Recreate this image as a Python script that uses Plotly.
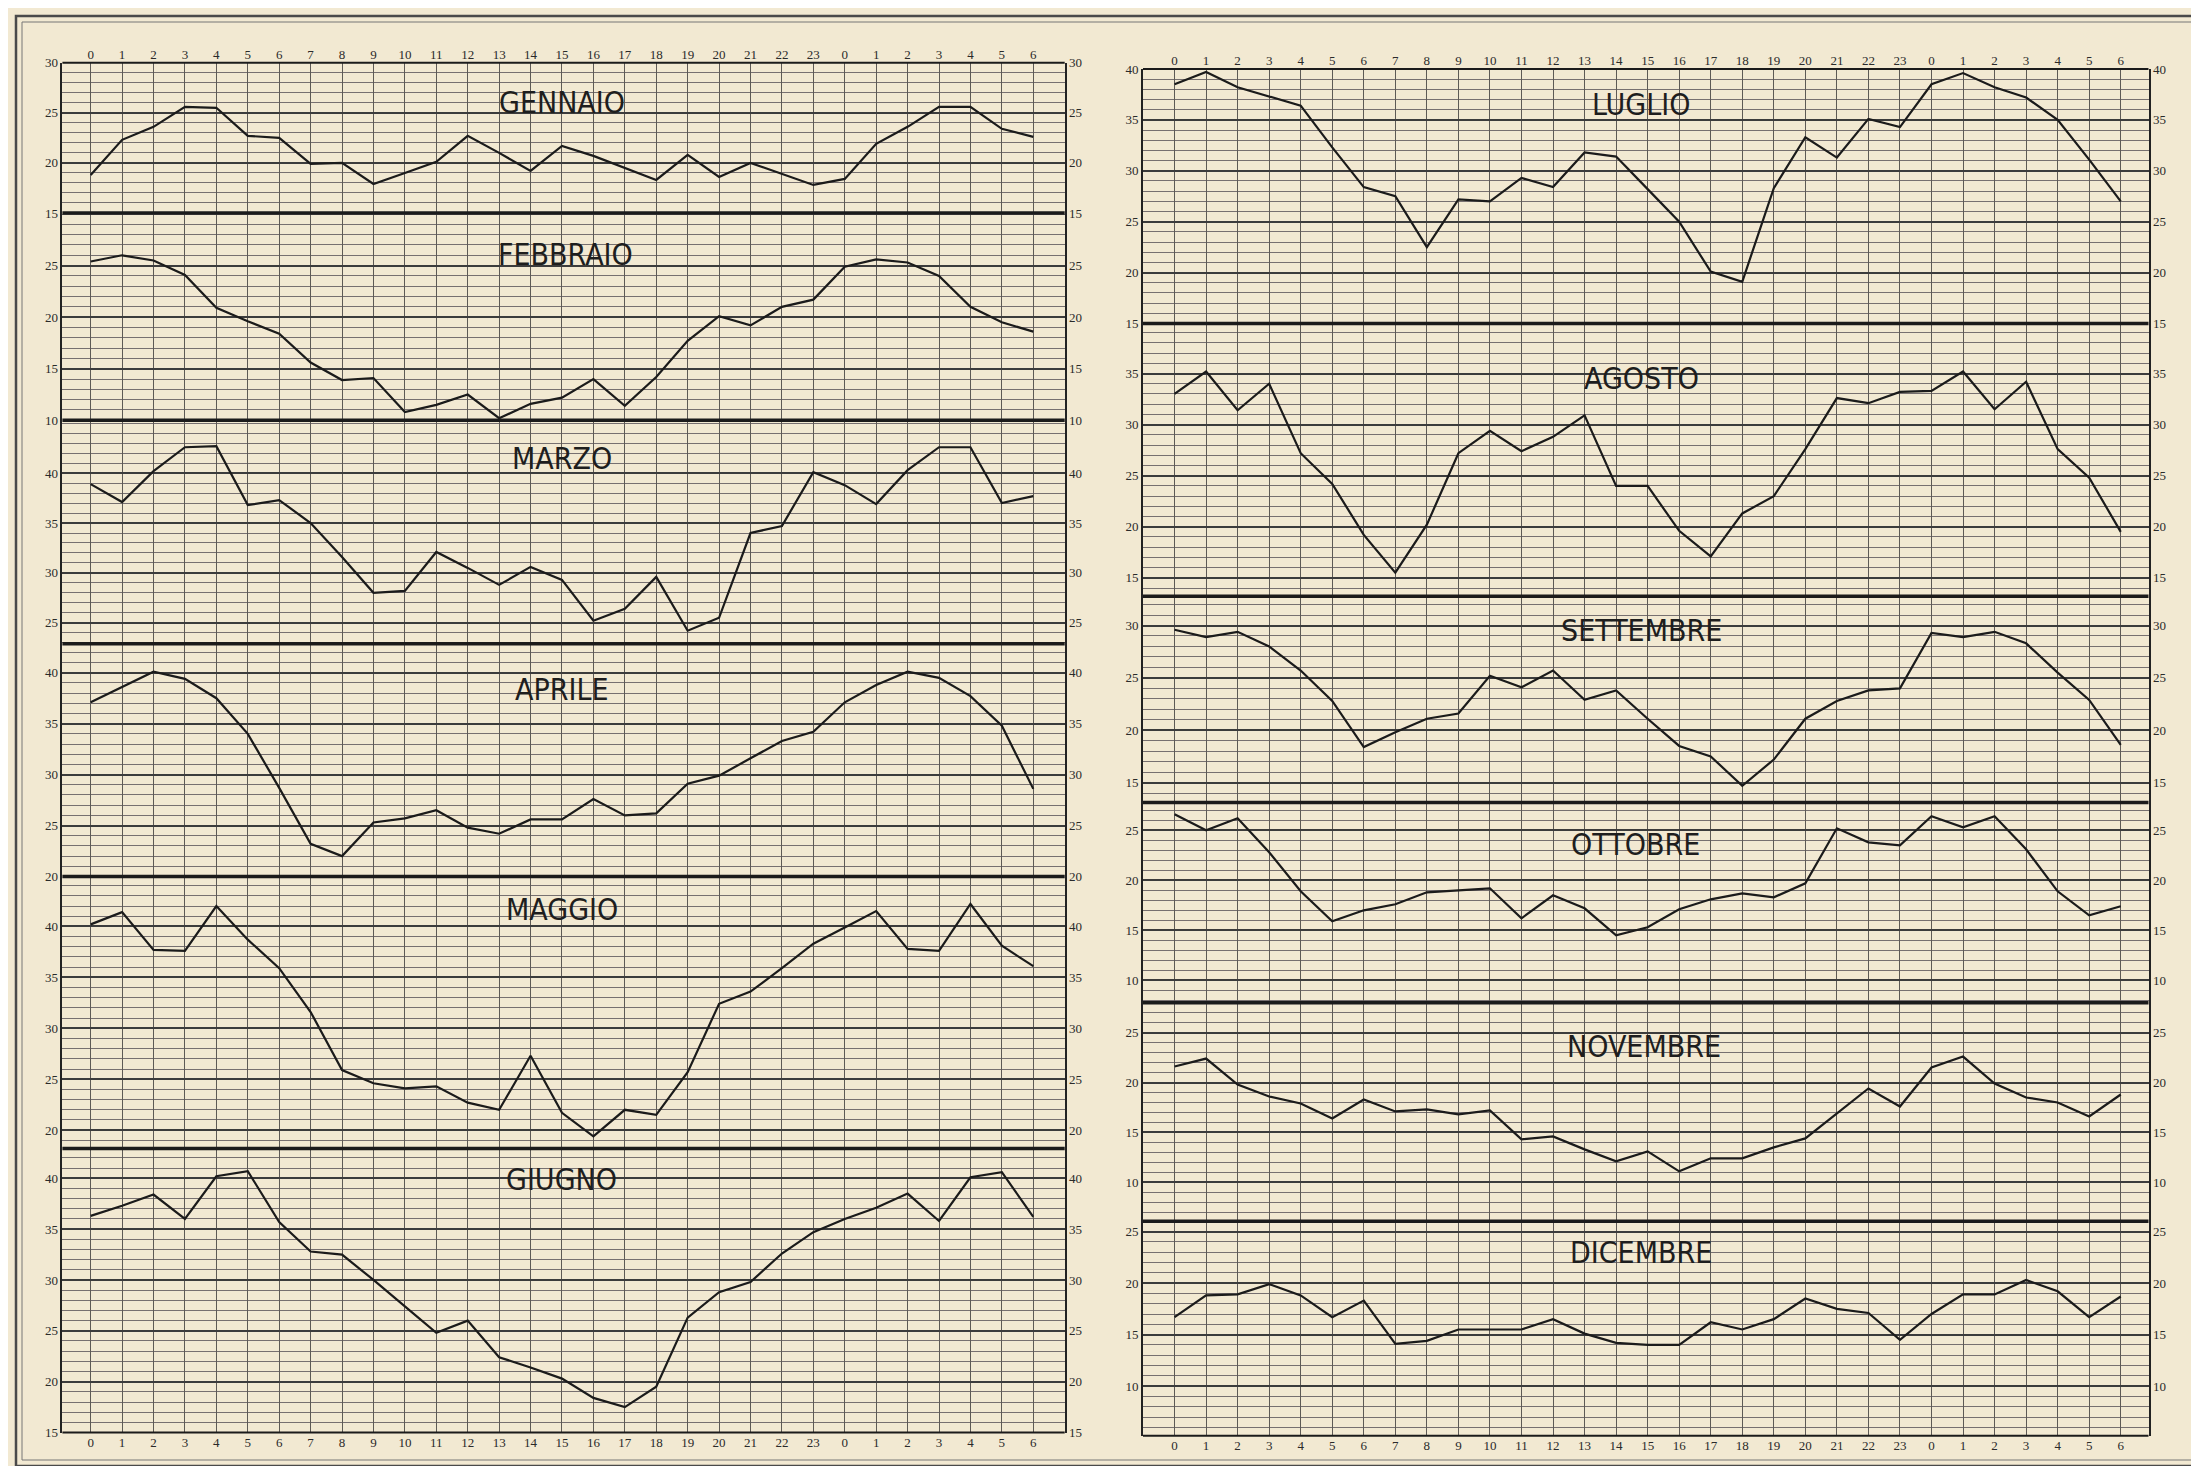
import plotly.graph_objects as go

W, H = 2199, 1466

# ---------------- data ----------------
hours = list(range(31))
hour_labels = [str(h) for h in range(24)] + [str(h) for h in range(7)]

months = ["GENNAIO", "FEBBRAIO", "MARZO", "APRILE", "MAGGIO", "GIUGNO",
          "LUGLIO", "AGOSTO", "SETTEMBRE", "OTTOBRE", "NOVEMBRE", "DICEMBRE"]

gennaio = [18.8, 22.3, 23.6, 25.6, 25.5, 22.7, 22.5, 19.9, 20.0, 17.9, 19.0, 20.1, 22.7, 21.0, 19.2, 21.7,
           20.7, 19.5, 18.3, 20.8, 18.6, 20.0, 18.9, 17.8, 18.4, 21.9, 23.6, 25.6, 25.6, 23.4, 22.6]
febbraio = [25.4, 26.0, 25.5, 24.1, 20.9, 19.6, 18.4, 15.6, 13.9, 14.1, 10.8, 11.5, 12.5, 10.2, 11.6, 12.2,
            14.0, 11.4, 14.2, 17.7, 20.1, 19.2, 21.0, 21.7, 24.9, 25.6, 25.3, 24.0, 21.0, 19.5, 18.6]
marzo = [38.9, 37.1, 40.2, 42.6, 42.7, 36.8, 37.3, 35.0, 31.6, 28.0, 28.2, 32.1, 30.5, 28.8, 30.6, 29.3,
         25.2, 26.4, 29.6, 24.2, 25.5, 34.0, 34.7, 40.1, 38.8, 36.9, 40.3, 42.6, 42.6, 37.0, 37.7]
aprile = [37.1, 38.6, 40.1, 39.4, 37.5, 34.0, 28.7, 23.2, 22.0, 25.3, 25.7, 26.5, 24.8, 24.2, 25.6, 25.6,
          27.6, 26.0, 26.2, 29.1, 29.9, 31.6, 33.3, 34.2, 37.1, 38.8, 40.1, 39.5, 37.7, 34.8, 28.6]
maggio = [40.2, 41.4, 37.7, 37.6, 42.0, 38.7, 35.9, 31.6, 25.9, 24.6, 24.1, 24.3, 22.7, 22.0, 27.3, 21.7,
          19.4, 22.0, 21.5, 25.7, 32.4, 33.6, 35.9, 38.3, 39.9, 41.5, 37.8, 37.6, 42.2, 38.1, 36.1]
giugno = [36.3, 37.3, 38.4, 36.0, 40.2, 40.7, 35.7, 32.8, 32.5, 30.0, 27.4, 24.8, 26.0, 22.4, 21.4, 20.3,
          18.4, 17.5, 19.5, 26.3, 28.8, 29.8, 32.6, 34.7, 36.0, 37.1, 38.5, 35.8, 40.1, 40.6, 36.2]
luglio = [38.5, 39.7, 38.2, 37.3, 36.4, 32.3, 28.4, 27.5, 22.5, 27.2, 27.0, 29.3, 28.4, 31.8, 31.4, 28.2,
          25.0, 20.1, 19.1, 28.3, 33.3, 31.3, 35.1, 34.3, 38.5, 39.6, 38.2, 37.2, 35.0, 31.1, 27.0]
agosto = [33.0, 35.2, 31.4, 34.0, 27.2, 24.2, 19.2, 15.5, 20.2, 27.2, 29.4, 27.4, 28.8, 30.9, 24.0, 24.0,
          19.6, 17.1, 21.3, 23.0, 27.6, 32.6, 32.1, 33.2, 33.3, 35.2, 31.5, 34.2, 27.6, 24.8, 19.5]
settembre = [29.6, 28.9, 29.4, 28.0, 25.7, 22.8, 18.4, 19.8, 21.1, 21.6, 25.2, 24.1, 25.7, 22.9, 23.8, 21.1,
             18.5, 17.5, 14.7, 17.2, 21.1, 22.8, 23.8, 24.0, 29.3, 28.9, 29.4, 28.3, 25.5, 22.9, 18.6]
ottobre = [26.6, 25.0, 26.2, 22.8, 18.9, 15.9, 17.0, 17.6, 18.8, 19.0, 19.2, 16.2, 18.5, 17.2, 14.5, 15.3,
           17.1, 18.1, 18.7, 18.3, 19.7, 25.2, 23.8, 23.5, 26.4, 25.3, 26.4, 23.1, 18.9, 16.5, 17.4]
novembre = [21.6, 22.4, 19.8, 18.6, 17.9, 16.4, 18.3, 17.1, 17.3, 16.8, 17.2, 14.3, 14.6, 13.3, 12.1, 13.1,
            11.1, 12.4, 12.4, 13.5, 14.4, 16.9, 19.4, 17.6, 21.5, 22.6, 19.9, 18.5, 18.0, 16.6, 18.8]
dicembre = [16.7, 18.8, 18.9, 19.9, 18.8, 16.7, 18.3, 14.1, 14.4, 15.5, 15.5, 15.5, 16.5, 15.1, 14.2, 14.0,
            14.0, 16.2, 15.5, 16.5, 18.5, 17.5, 17.1, 14.5, 17.0, 18.9, 18.9, 20.3, 19.2, 16.7, 18.7]

series = [gennaio, febbraio, marzo, aprile, maggio, giugno,
          luglio, agosto, settembre, ottobre, novembre, dicembre]

# labelled y ticks of every panel
y_ticks = [
    [15, 20, 25, 30], [10, 15, 20, 25], [25, 30, 35, 40], [20, 25, 30, 35, 40],
    [20, 25, 30, 35, 40], [15, 20, 25, 30, 35, 40],
    [15, 20, 25, 30, 35, 40], [15, 20, 25, 30, 35], [15, 20, 25, 30],
    [10, 15, 20, 25], [10, 15, 20, 25], [10, 15, 20, 25],
]
# visible value range of every panel (bottom, top)
y_ranges = [
    (15.0, 30.0), (10.0, 30.1), (22.9, 45.3), (20.0, 42.85), (18.2, 44.9), (15.0, 42.93),
    (15.0, 40.0), (13.2, 39.9), (13.1, 32.8), (7.76, 27.78), (6.1, 28.0), (5.2, 26.0),
]

# ---------------- layout geometry (pixels) ----------------
panel_px = [  # (top, bottom)
    (54.7, 205.0), (205.0, 412.3), (412.3, 635.7), (635.7, 868.5), (868.5, 1140.5), (1140.5, 1424.5),
    (61.0, 315.5), (315.5, 588.2), (588.2, 794.5), (794.5, 994.7), (994.7, 1213.2), (1213.2, 1427.7),
]
title_pos = [(15.0, 26.0), (15.1, 26.1), (15.0, 41.5), (15.0, 38.4), (15.0, 41.66), (15.0, 39.86),
             (14.8, 36.5), (14.8, 34.5), (14.8, 29.5), (14.6, 23.6), (14.9, 23.6), (14.8, 22.97)]

col_spec = {
    0: dict(xb="x", xt="x2", dom=[54.4 / W, 1056.7 / W], rng=[-0.9, 31.0], bottom_y="y6", top_y="y"),
    1: dict(xb="x3", xt="x4", dom=[1135 / W, 2140.5 / W], rng=[-1.0, 30.88], bottom_y="y12", top_y="y7"),
}

INK = "#1b1b1b"
PAPER = "#f2e9d2"
tick_font = dict(family="Liberation Serif, DejaVu Serif, serif", size=13, color="#2a2a2a")
title_font = dict(family="Liberation Sans Narrow, DejaVu Sans Condensed, Arial Narrow, sans-serif",
                  size=30, color="#1e1e1e")


def py(px):
    return 1 - px / H


def yname(k):
    return "y" if k == 1 else f"y{k}"


def ykey(k):
    return "yaxis" if k == 1 else f"yaxis{k}"


fig = go.Figure()
layout = {}
annotations = []
shapes = []

for i, (name, vals) in enumerate(zip(months, series)):
    k = i + 1
    col = col_spec[0 if i < 6 else 1]
    top, bot = panel_px[i]
    lo, hi = y_ranges[i]
    fig.add_trace(go.Scatter(x=hours, y=vals, xaxis=col["xb"], yaxis=yname(k), mode="lines",
                             line=dict(color=INK, width=2.2), name=name.title(), hoverinfo="x+y"))
    # companion trace for the right-hand value axis
    fig.add_trace(go.Scatter(x=hours, y=vals, xaxis=col["xb"], yaxis=yname(k + 12), mode="lines",
                             line=dict(width=0.5), opacity=0, hoverinfo="skip", showlegend=False))
    minor_vals = list(range(int(lo) + (0 if lo == int(lo) else 1), int(hi) + 1))
    layout[ykey(k)] = dict(
        domain=[py(bot), py(top)], range=[lo, hi], anchor=col["xb"], side="left",
        tickmode="array", tickvals=y_ticks[i], ticks="", tickfont=tick_font,
        showgrid=True, gridcolor="#3c3c3c", gridwidth=1.5,
        minor=dict(tickmode="array", tickvals=minor_vals, showgrid=True, gridcolor="#777070", gridwidth=0.8),
        zeroline=False, showline=True, linecolor="#222", linewidth=1.6, fixedrange=True,
    )
    layout[ykey(k + 12)] = dict(
        overlaying=yname(k), range=[lo, hi], anchor=col["xb"], side="right",
        tickmode="array", tickvals=y_ticks[i], ticks="", tickfont=tick_font,
        showgrid=False, zeroline=False, showline=True, linecolor="#222", linewidth=1.6, fixedrange=True,
    )
    tx, ty = title_pos[i]
    annotations.append(dict(text=name, x=tx, y=ty, xref=col["xb"], yref=yname(k), showarrow=False,
                            font=title_font, xanchor="center", yanchor="middle"))
    # separators
    x0, x1 = col["dom"]
    first = (i % 6 == 0)
    last = (i % 6 == 5)
    shapes.append(dict(type="line", xref="paper", yref="paper", x0=x0, x1=x1, y0=py(top), y1=py(top),
                       line=dict(color=INK, width=2.0 if first else 3.6)))
    if last:
        shapes.append(dict(type="line", xref="paper", yref="paper", x0=x0, x1=x1, y0=py(bot), y1=py(bot),
                           line=dict(color=INK, width=2.0)))

for c in (0, 1):
    col = col_spec[c]
    xb_key = "xaxis" if col["xb"] == "x" else "xaxis" + col["xb"][1:]
    xt_key = "xaxis" + col["xt"][1:]
    layout[xb_key] = dict(
        domain=col["dom"], range=col["rng"], anchor=col["bottom_y"], side="bottom",
        tickmode="array", tickvals=hours, ticktext=hour_labels, ticks="", tickfont=tick_font,
        showgrid=True, gridcolor="#5e5a55", gridwidth=0.9, zeroline=False, showline=False, fixedrange=True,
    )
    layout[xt_key] = dict(
        overlaying=col["xb"], range=col["rng"], anchor=col["top_y"], side="top",
        tickmode="array", tickvals=hours, ticktext=hour_labels, ticks="", tickfont=tick_font,
        showgrid=False, zeroline=False, showline=False, fixedrange=True,
    )
    # invisible trace that carries the top hour axis
    fig.add_trace(go.Scatter(x=hours, y=series[0 if c == 0 else 6], xaxis=col["xt"], yaxis=col["top_y"],
                             mode="lines", line=dict(width=0.5), opacity=0, hoverinfo="skip",
                             showlegend=False))

# page frame
shapes.append(dict(type="rect", xref="paper", yref="paper", x0=8 / W, x1=(W - 8) / W, y0=py(H - 8), y1=py(8),
                   line=dict(color="#4a4a4a", width=2.5)))
shapes.append(dict(type="rect", xref="paper", yref="paper", x0=14 / W, x1=(W - 14) / W, y0=py(H - 14),
                   y1=py(14), line=dict(color="#777", width=1)))

fig.update_layout(
    width=W, height=H, margin=dict(l=0, r=0, t=0, b=0),
    paper_bgcolor=PAPER, plot_bgcolor=PAPER, showlegend=False,
    template="none", annotations=annotations, shapes=shapes, **layout,
)

fig.write_html("out.html")
